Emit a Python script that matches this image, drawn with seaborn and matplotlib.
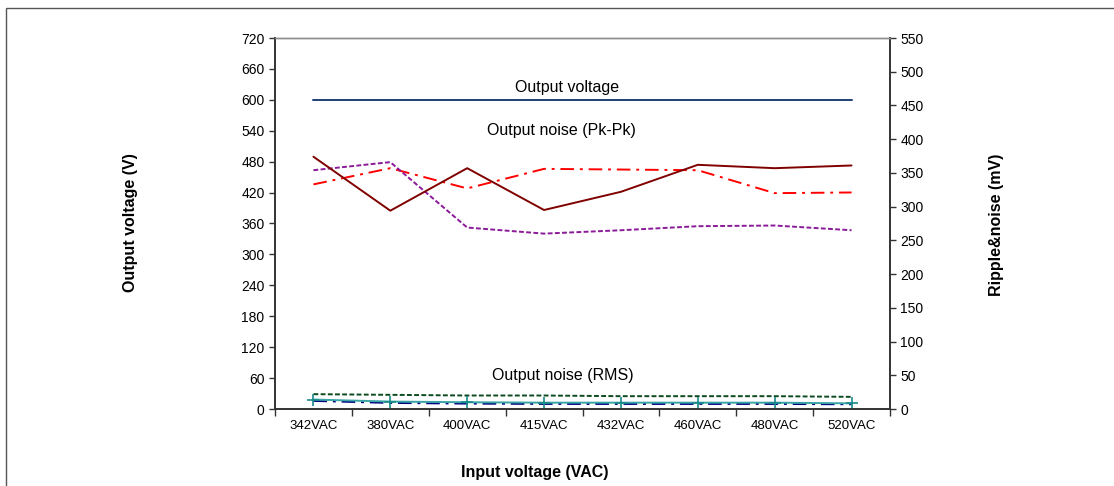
import matplotlib
matplotlib.use("Agg")
import matplotlib.pyplot as plt
import seaborn as sns
import pandas as pd
from matplotlib.patches import Rectangle
from matplotlib.ticker import FixedLocator

# Input voltage categories
categories = ["342VAC", "380VAC", "400VAC", "415VAC", "432VAC", "460VAC", "480VAC", "520VAC"]

# Output voltage (V), left axis
output_voltage = [600, 600, 600, 600, 600, 600, 600, 600]

# Peak-to-peak noise (mV), right axis
pkpk_a = [374, 294, 357, 295, 322, 362, 357, 361]
pkpk_b = [333, 357, 327, 356, 355, 354, 320, 321]
pkpk_c = [354, 366, 269, 260, 265, 271, 272, 265]

# RMS noise (mV), right axis
rms_a = [22, 21, 20, 20, 19, 19, 19, 18]
rms_b = [14, 11, 10, 9.4, 9.4, 9.4, 9.4, 8.4]
rms_c = [12, 9, 8, 7.5, 7.5, 7.5, 7.5, 7]

y_left_ticks = list(range(0, 721, 60))
y_right_ticks = list(range(0, 551, 50))

sns.set_theme(style="white")
plt.rcParams["font.family"] = ["Liberation Sans", "DejaVu Sans"]
plt.rcParams["text.color"] = "black"

pos = list(range(len(categories)))
df = pd.DataFrame({
    "pos": pos,
    "vout": output_voltage,
    "pkpk_a": pkpk_a, "pkpk_b": pkpk_b, "pkpk_c": pkpk_c,
    "rms_a": rms_a, "rms_b": rms_b, "rms_c": rms_c,
})

fig = plt.figure(figsize=(11.14, 4.86), dpi=100)
ax = fig.add_axes([275 / 1114, 1 - 409 / 486, (890 - 275) / 1114, (409 - 38) / 486])
ax2 = ax.twinx()

lw = 1.4
sns.lineplot(data=df, x="pos", y="vout", ax=ax, color="#1F3F74", lw=lw)

sns.lineplot(data=df, x="pos", y="pkpk_b", ax=ax2, color="#FF0000", lw=lw,
             linestyle=(0, (7, 3, 1.5, 3)))
sns.lineplot(data=df, x="pos", y="pkpk_c", ax=ax2, color="#8B1A99", lw=lw,
             linestyle=(0, (2.5, 1.2)))
sns.lineplot(data=df, x="pos", y="pkpk_a", ax=ax2, color="#800000", lw=lw)

sns.lineplot(data=df, x="pos", y="rms_c", ax=ax2, color="#000080", lw=lw,
             linestyle=(0, (7, 3, 1.5, 3)))
sns.lineplot(data=df, x="pos", y="rms_a", ax=ax2, color="#0B4A1E", lw=lw,
             linestyle=(0, (2.5, 1.2)))
sns.lineplot(data=df, x="pos", y="rms_b", ax=ax2, color="#3AA5A5", lw=lw,
             marker="+", markersize=9, markeredgewidth=1.2, markeredgecolor="#1A8A8A")

for a in (ax, ax2):
    a.set_xlim(-0.5, len(categories) - 0.5)
    a.set_xlabel("")
    a.set_ylabel("")
    a.grid(False)

ax.set_ylim(0, 720)
ax.set_yticks(y_left_ticks)
ax2.set_ylim(0, 550)
ax2.set_yticks(y_right_ticks)

ax.set_xticks(pos)
ax.set_xticklabels(categories, fontsize=9.5, color="black")
ax.xaxis.set_minor_locator(FixedLocator([p - 0.5 for p in range(len(categories) + 1)]))
ax.tick_params(axis="x", which="major", length=0, pad=8)
ax.tick_params(axis="x", which="minor", length=5, width=1, color="#333333", direction="out", bottom=True)
ax.tick_params(axis="y", length=4, width=1, color="#333333", direction="out", left=True,
               labelsize=10, labelcolor="black")
ax2.tick_params(axis="y", length=4, width=1, color="#333333", direction="out", right=True,
                labelsize=10, labelcolor="black")

for a in (ax, ax2):
    for side in ("left", "right", "bottom"):
        a.spines[side].set_color("#333333")
        a.spines[side].set_linewidth(1.2)
    a.spines["top"].set_color("#8C8C8C")
    a.spines["top"].set_linewidth(1.0)

ax.text(3.30, 623, "Output voltage", fontsize=11.5, ha="center", va="center")
ax2.text(3.22, 413, "Output noise (Pk-Pk)", fontsize=11.5, ha="center", va="center")
ax2.text(3.25, 50, "Output noise (RMS)", fontsize=11.5, ha="center", va="center")

fig.text(130 / 1114, 1 - 223 / 486, "Output voltage (V)", rotation=90, fontsize=11.5,
         fontweight="bold", ha="center", va="center")
fig.text(996 / 1114, 1 - 225 / 486, "Ripple&noise (mV)", rotation=90, fontsize=11.5,
         fontweight="bold", ha="center", va="center")
fig.text(535 / 1114, 1 - 472 / 486, "Input voltage (VAC)", fontsize=11.5,
         fontweight="bold", ha="center", va="center")

# outer chart frame (open to the right and bottom of the canvas)
fig.patches.append(Rectangle((6 / 1114, -0.1), 1.2, 1 - 8 / 486 + 0.1,
                             transform=fig.transFigure, fill=False,
                             edgecolor="#555555", linewidth=1.0))

fig.savefig("out.png", dpi=100)
